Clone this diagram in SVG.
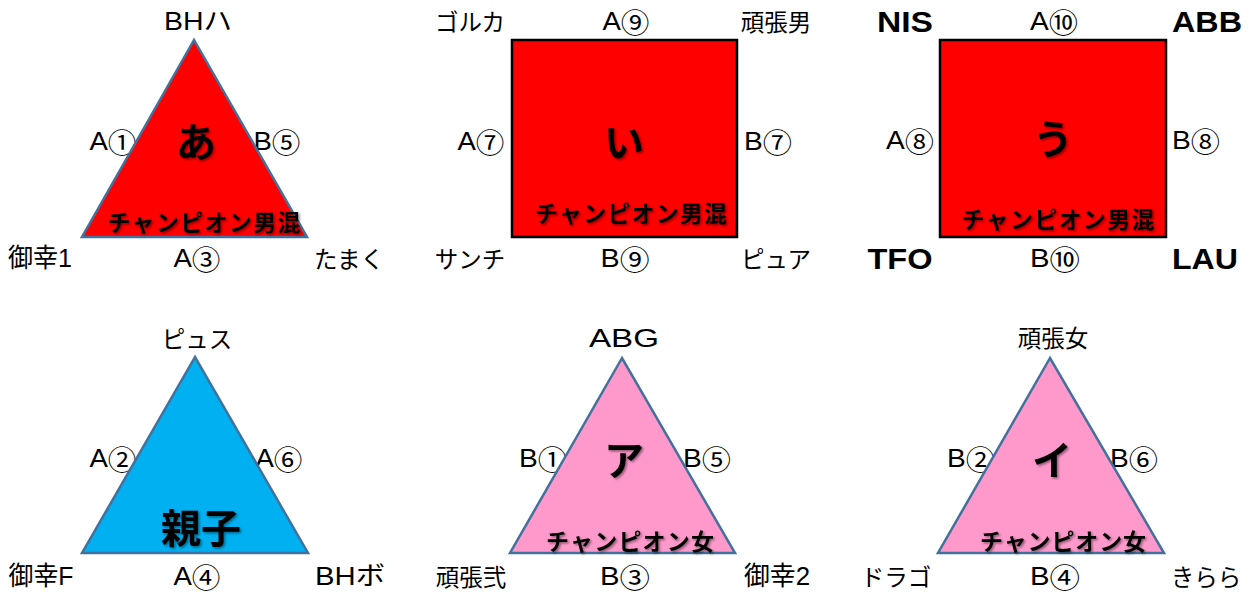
<svg xmlns="http://www.w3.org/2000/svg" width="1250" height="594" viewBox="0 0 1250 594">
<defs>
<style>
text{font-family:"Liberation Sans","Noto Sans CJK JP",sans-serif;fill:#000;text-anchor:middle;dominant-baseline:central}
.l{font-size:26px}
.c{font-family:"Noto Sans CJK JP",sans-serif;font-size:27px}
.j{font-size:23.5px;font-family:"Noto Sans CJK JP",sans-serif}
.b{font-size:29px;font-weight:bold}
.big{font-size:40px;font-weight:bold;font-family:"Noto Sans CJK JP",sans-serif;filter:url(#sh)}
.ch{font-size:23px;font-weight:bold;font-family:"Noto Sans CJK JP",sans-serif;filter:url(#sh)}
.tri{stroke:#41719c;stroke-width:2.5;stroke-linejoin:miter}
.rect{stroke:#000;stroke-width:2.5}
.red{fill:#ff0000}
.blue{fill:#00b0f0}
.pink{fill:#ff99cc}
</style>
<filter id="sh" x="-20%" y="-20%" width="140%" height="140%">
<feDropShadow dx="1.5" dy="1.5" stdDeviation="1" flood-color="#000" flood-opacity="0.45"/>
</filter>
</defs>

<g id="connectors"></g>

<g id="node-a">
<text class="l" x="198" y="21" textLength="68" lengthAdjust="spacingAndGlyphs">BHハ</text>
<text class="l" x="113" y="141" textLength="47" lengthAdjust="spacingAndGlyphs">A<tspan class="c">①</tspan></text>
<text class="l" x="277" y="141" textLength="47" lengthAdjust="spacingAndGlyphs">B<tspan class="c">⑤</tspan></text>
<polygon class="tri red" points="194,40 82,237 307,237"/>
<text class="big" x="196" y="140">あ</text>
<text class="ch" x="204" y="221" textLength="193">チャンピオン男混</text>
<text class="l" x="40" y="258" textLength="64" lengthAdjust="spacingAndGlyphs">御幸1</text>
<text class="l" x="197" y="258" textLength="47" lengthAdjust="spacingAndGlyphs">A<tspan class="c">③</tspan></text>
<text class="j" x="349" y="258">たまく</text>
</g>

<g id="node-i">
<text class="j" x="470" y="21">ゴルカ</text>
<text class="l" x="626" y="21" textLength="47" lengthAdjust="spacingAndGlyphs">A<tspan class="c">⑨</tspan></text>
<text class="j" x="776" y="21">頑張男</text>
<text class="l" x="481" y="141" textLength="47" lengthAdjust="spacingAndGlyphs">A<tspan class="c">⑦</tspan></text>
<rect class="rect red" x="512" y="40" width="225" height="197"/>
<text class="l" x="768" y="141" textLength="48" lengthAdjust="spacingAndGlyphs">B<tspan class="c">⑦</tspan></text>
<text class="big" x="624" y="140">い</text>
<text class="ch" x="631" y="212" textLength="192">チャンピオン男混</text>
<text class="j" x="470" y="258">サンチ</text>
<text class="l" x="625" y="258" textLength="49" lengthAdjust="spacingAndGlyphs">B<tspan class="c">⑨</tspan></text>
<text class="j" x="776" y="258">ピュア</text>
</g>

<g id="node-u">
<text class="b" x="905" y="22" textLength="56" lengthAdjust="spacingAndGlyphs">NIS</text>
<text class="l" x="1054" y="21" textLength="48" lengthAdjust="spacingAndGlyphs">A<tspan class="c">⑩</tspan></text>
<text class="b" x="1207" y="22" textLength="70" lengthAdjust="spacingAndGlyphs">ABB</text>
<text class="l" x="910" y="140" textLength="48" lengthAdjust="spacingAndGlyphs">A<tspan class="c">⑧</tspan></text>
<rect class="rect red" x="940" y="40" width="226" height="197"/>
<text class="l" x="1196" y="140" textLength="48" lengthAdjust="spacingAndGlyphs">B<tspan class="c">⑧</tspan></text>
<text class="big" x="1053" y="137">う</text>
<text class="ch" x="1058" y="218" textLength="193">チャンピオン男混</text>
<text class="b" x="900" y="259" textLength="65" lengthAdjust="spacingAndGlyphs">TFO</text>
<text class="l" x="1055" y="258" textLength="50" lengthAdjust="spacingAndGlyphs">B<tspan class="c">⑩</tspan></text>
<text class="b" x="1205" y="259" textLength="66" lengthAdjust="spacingAndGlyphs">LAU</text>
</g>

<g id="node-oyako">
<text class="j" x="197" y="338">ピュス</text>
<text class="l" x="113" y="458" textLength="47" lengthAdjust="spacingAndGlyphs">A<tspan class="c">②</tspan></text>
<text class="l" x="279" y="458" textLength="47" lengthAdjust="spacingAndGlyphs">A<tspan class="c">⑥</tspan></text>
<polygon class="tri blue" points="195,357 82,553 308,553"/>
<text class="big" x="201" y="526">親子</text>
<text class="l" x="41" y="576" textLength="65" lengthAdjust="spacingAndGlyphs">御幸F</text>
<text class="l" x="197" y="576" textLength="47" lengthAdjust="spacingAndGlyphs">A<tspan class="c">④</tspan></text>
<text class="l" x="350" y="576" textLength="70" lengthAdjust="spacingAndGlyphs">BHボ</text>
</g>

<g id="node-a-kata">
<text class="l" x="624" y="338" textLength="70" lengthAdjust="spacingAndGlyphs">ABG</text>
<text class="l" x="543" y="458" textLength="48" lengthAdjust="spacingAndGlyphs">B<tspan class="c">①</tspan></text>
<text class="l" x="707" y="458" textLength="48" lengthAdjust="spacingAndGlyphs">B<tspan class="c">⑤</tspan></text>
<polygon class="tri pink" points="622,358 510,553 735,553"/>
<text class="big" x="624" y="458">ア</text>
<text class="ch" x="630" y="540" textLength="168">チャンピオン女</text>
<text class="j" x="471" y="576">頑張弐</text>
<text class="l" x="625" y="576" textLength="50" lengthAdjust="spacingAndGlyphs">B<tspan class="c">③</tspan></text>
<text class="l" x="777" y="576" textLength="66" lengthAdjust="spacingAndGlyphs">御幸2</text>
</g>

<g id="node-i-kata">
<text class="j" x="1053" y="337">頑張女</text>
<text class="l" x="971" y="458" textLength="48" lengthAdjust="spacingAndGlyphs">B<tspan class="c">②</tspan></text>
<text class="l" x="1134" y="458" textLength="48" lengthAdjust="spacingAndGlyphs">B<tspan class="c">⑥</tspan></text>
<polygon class="tri pink" points="1050,358 938,553 1164,553"/>
<text class="big" x="1052" y="458">イ</text>
<text class="ch" x="1063" y="540" textLength="166">チャンピオン女</text>
<text class="j" x="896" y="576">ドラゴ</text>
<text class="l" x="1055" y="576" textLength="50" lengthAdjust="spacingAndGlyphs">B<tspan class="c">④</tspan></text>
<text class="j" x="1206" y="576">きらら</text>
</g>
</svg>
